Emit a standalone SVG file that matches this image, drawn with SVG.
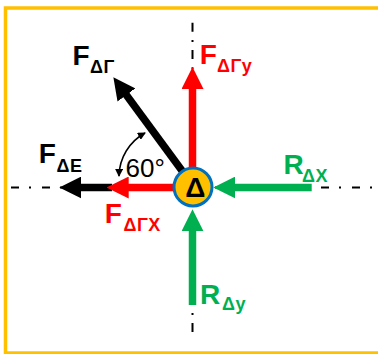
<svg xmlns="http://www.w3.org/2000/svg" width="378" height="354" viewBox="0 0 378 354">
<style>
.lbl{font-family:"Liberation Sans",Arial,sans-serif;font-weight:bold;font-size:28px}
.sub{font-size:18px;letter-spacing:0.5px}
.axis{stroke:#000;stroke-width:2;fill:none}
.shaft{stroke-width:7.5;fill:none}
.red{fill:#FF0000;stroke:#FF0000}
.green{fill:#00B050;stroke:#00B050}
.blk{fill:#000;stroke:#000}
</style>
<defs>
<marker id="hRed" markerUnits="userSpaceOnUse" markerWidth="22" markerHeight="22" viewBox="0 0 22 22" refX="1" refY="11" orient="auto"><path d="M0,0 L22,11 L0,22 z" fill="#FF0000"/></marker>
<marker id="hGreen" markerUnits="userSpaceOnUse" markerWidth="22" markerHeight="22" viewBox="0 0 22 22" refX="1" refY="11" orient="auto"><path d="M0,0 L22,11 L0,22 z" fill="#00B050"/></marker>
<marker id="hBlack" markerUnits="userSpaceOnUse" markerWidth="22" markerHeight="22" viewBox="0 0 22 22" refX="1" refY="11" orient="auto"><path d="M0,0 L22,11 L0,22 z" fill="#000"/></marker>
<marker id="hSmall" markerUnits="userSpaceOnUse" markerWidth="8" markerHeight="8" viewBox="0 0 8 8" refX="7" refY="4" orient="auto-start-reverse"><path d="M0,0 L8,4 L0,8 z" fill="#000"/></marker>
</defs>
<rect x="5.5" y="8" width="380" height="345" fill="#fff" stroke="#FFC000" stroke-width="3.5"/>
<g id="axes">
<line class="axis" x1="11" y1="187.5" x2="376" y2="187.5" stroke-dasharray="8 10 2 11"/>
<line class="axis" x1="192.5" y1="22.7" x2="192.5" y2="333" stroke-dasharray="9 8.3 2 8"/>
</g>
<g id="connectors">
<line class="shaft blk" x1="112" y1="187.5" x2="80.3" y2="187.5" marker-end="url(#hBlack)"/>
<line class="shaft red" x1="176" y1="187.5" x2="127.7" y2="187.5" marker-end="url(#hRed)"/>
<line class="shaft red" x1="192.5" y1="172" x2="192.5" y2="88" marker-end="url(#hRed)"/>
<line class="shaft green" x1="311.7" y1="187.5" x2="234.3" y2="187.5" marker-end="url(#hGreen)"/>
<line class="shaft green" x1="192.5" y1="305" x2="192.5" y2="230.3" marker-end="url(#hGreen)"/>
<line class="shaft blk" x1="183" y1="172" x2="125.8" y2="94.2" marker-end="url(#hBlack)"/>
<path d="M145,133 A50,50 0 0 0 119,176" fill="none" stroke="#000" stroke-width="1.5" marker-start="url(#hSmall)" marker-end="url(#hSmall)"/>
</g>
<g id="node-delta">
<circle cx="193" cy="187" r="19" fill="#FFC000" stroke="#0070C0" stroke-width="3"/>
<text x="195.3" y="197.3" text-anchor="middle" class="lbl">Δ</text>
</g>
<g id="label-angle">
<text x="125.5" y="177" font-family="Liberation Sans, Arial, sans-serif" font-size="26" fill="#000">60°</text>
</g>
<g id="label-FDG">
<text class="lbl" fill="#000" x="72.5" y="65">F<tspan class="sub" x="90" y="73">ΔΓ</tspan></text>
</g>
<g id="label-FDE">
<text class="lbl" fill="#000" x="38.7" y="163">F<tspan class="sub" x="56.5" y="171.5">ΔE</tspan></text>
</g>
<g id="label-FDGy">
<text class="lbl" fill="#FF0000" x="199.7" y="63.5">F<tspan class="sub" x="217" y="71.7">ΔΓy</tspan></text>
</g>
<g id="label-FDGx">
<text class="lbl" fill="#FF0000" x="104.7" y="223">F<tspan class="sub" x="123.5" y="230.5">ΔΓX</tspan></text>
</g>
<g id="label-RDX">
<text class="lbl" fill="#00B050" x="283.5" y="174">R<tspan class="sub" x="302" y="181.7">ΔX</tspan></text>
</g>
<g id="label-RDy">
<text class="lbl" fill="#00B050" x="200" y="304">R<tspan class="sub" x="222" y="310">Δy</tspan></text>
</g>
</svg>
